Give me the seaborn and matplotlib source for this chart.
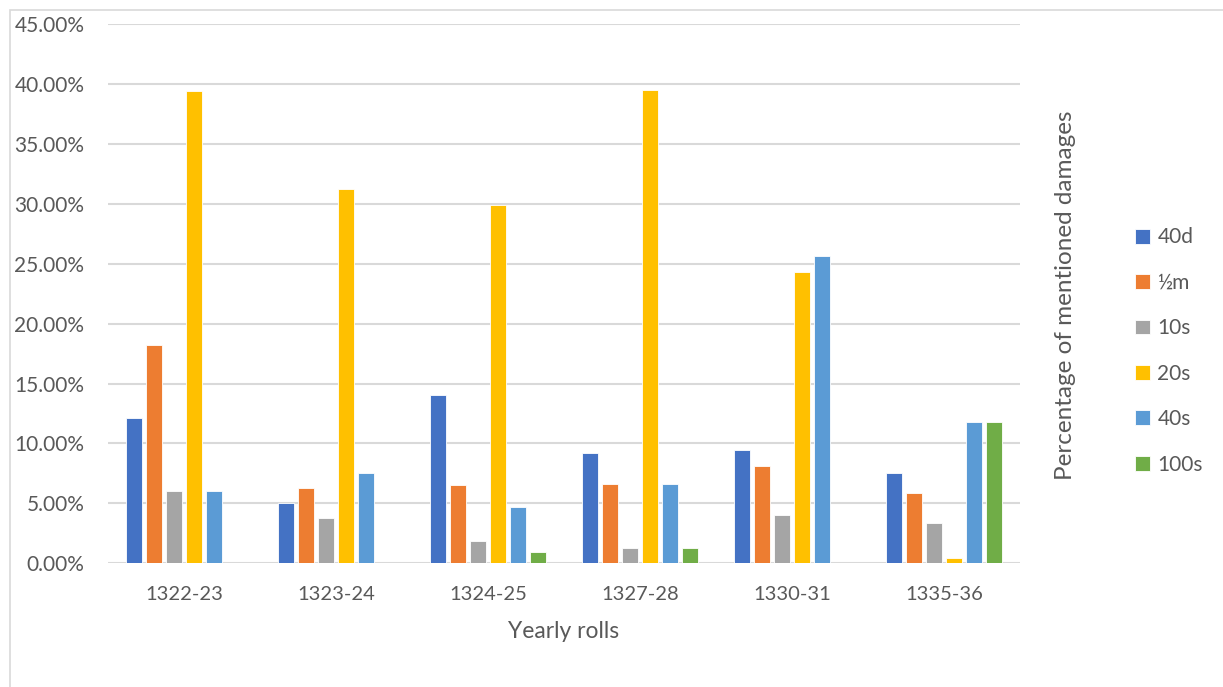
import pandas as pd
import seaborn as sns
import matplotlib.pyplot as plt
from matplotlib.patches import Rectangle
from matplotlib.ticker import PercentFormatter, MultipleLocator

# --- Data (percent of mentioned damages per yearly roll) ---
rolls = ['1322-23', '1323-24', '1324-25', '1327-28', '1330-31', '1335-36']
series = ['40d', '½m', '10s', '20s', '40s', '100s']
v_40d = [12.12, 5.00, 14.02, 9.21, 9.46, 7.56]
v_half_m = [18.18, 6.25, 6.54, 6.58, 8.11, 5.88]
v_10s = [6.06, 3.75, 1.87, 1.32, 4.05, 3.36]
v_20s = [39.39, 31.25, 29.91, 39.47, 24.32, 0.42]
v_40s = [6.06, 7.50, 4.67, 6.58, 25.68, 11.76]
v_100s = [0.0, 0.0, 0.93, 1.32, 0.0, 11.76]

COLORS = ['#4472C4', '#ED7D31', '#A5A5A5', '#FFC000', '#5B9BD5', '#70AD47']
TEXT = '#595959'
GRID = '#D9D9D9'

values = [v_40d, v_half_m, v_10s, v_20s, v_40s, v_100s]
df = pd.DataFrame([
    {'Roll': r, 'Coin': s, 'Pct': v}
    for s, vals in zip(series, values)
    for r, v in zip(rolls, vals)
])

sns.set_theme(style='white')
plt.rcParams['font.family'] = ['Lato', 'DejaVu Sans']

fig = plt.figure(figsize=(12.23, 6.87), dpi=100)
ax = fig.add_axes([0.0883, 0.180, 0.7457, 0.785])

sns.barplot(data=df, x='Roll', y='Pct', hue='Coin', order=rolls,
            hue_order=series, palette=COLORS, width=0.79, gap=0.2,
            saturation=1, errorbar=None, legend=True, ax=ax,
            edgecolor='white', linewidth=0.6)

ax.set_ylim(0, 45)
ax.yaxis.set_major_locator(MultipleLocator(5))
ax.yaxis.set_major_formatter(PercentFormatter(xmax=100, decimals=2))
ax.grid(axis='y', color=GRID, linewidth=1.5)
ax.set_axisbelow(True)
for sp in ax.spines.values():
    sp.set_visible(False)
ax.tick_params(axis='both', length=0, colors=TEXT, labelsize=14.5)
ax.tick_params(axis='y', labelsize=15, pad=17)
ax.tick_params(axis='x', pad=16)

ax.set_xlabel('Yearly rolls', fontsize=16.5, color=TEXT, labelpad=13)
ax.set_ylabel('')

# y title sits on the right, between the plot and the legend
fig.text(1065 / 1223, 1 - 295 / 687, 'Percentage of mentioned damages',
         rotation=90, ha='center', va='center', fontsize=17.5, color=TEXT)

handles, labels = ax.get_legend_handles_labels()
ax.legend_.remove()
fig.legend(handles, labels, loc='center left',
           bbox_to_anchor=(1135 / 1223, 1 - 351 / 687),
           frameon=False, fontsize=15, labelcolor=TEXT,
           handlelength=0.72, handleheight=0.72, handletextpad=0.35,
           labelspacing=1.22, borderpad=0, borderaxespad=0)

# chart area border (Excel style, cropped at right/bottom)
fig.patches.append(Rectangle((10 / 1223, -0.1), 1.2, 1 - 10 / 687 + 0.1,
                             transform=fig.transFigure, fill=False,
                             edgecolor=GRID, linewidth=1.2))

fig.savefig('out.png', dpi=100)
